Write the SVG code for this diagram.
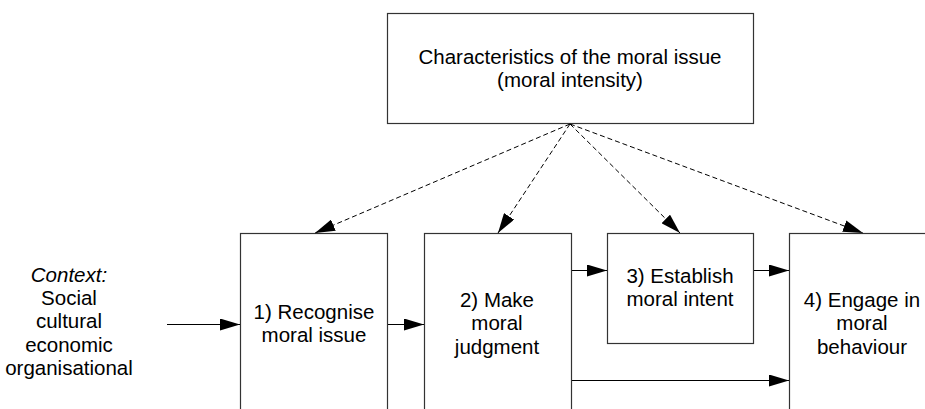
<svg xmlns="http://www.w3.org/2000/svg" width="925" height="409" viewBox="0 0 925 409">
  <style>
    .box { fill: #fff; stroke: #333; stroke-width: 1.2; }
    .lbl { font-family: "Liberation Sans", Arial, sans-serif; font-size: 20.5px; fill: #000; text-anchor: middle; }
    .it { font-style: italic; }
    .flow { stroke: #000; stroke-width: 1; fill: none; marker-end: url(#head); }
    .dash { stroke-dasharray: 5 3; }
  </style>
  <defs>
    <marker id="head" markerUnits="userSpaceOnUse" markerWidth="20" markerHeight="12" refX="20" refY="6" orient="auto">
      <path d="M0,0 L20,6 L0,12 Z" fill="#000" stroke="none"/>
    </marker>
  </defs>
  <rect width="925" height="409" fill="#fff"/>

  <g id="moral-intensity">
    <rect class="box" x="387.5" y="13.5" width="366" height="110"/>
    <text class="lbl" x="570" y="64">Characteristics of the moral issue</text>
    <text class="lbl" x="570" y="87">(moral intensity)</text>
  </g>

  <g id="context">
    <text class="lbl it" x="69" y="282">Context:</text>
    <text class="lbl" x="69" y="305">Social</text>
    <text class="lbl" x="69" y="328">cultural</text>
    <text class="lbl" x="69" y="352">economic</text>
    <text class="lbl" x="69" y="375">organisational</text>
  </g>

  <g id="recognise">
    <rect class="box" x="240.5" y="233.5" width="147" height="190"/>
    <text class="lbl" x="314" y="319">1) Recognise</text>
    <text class="lbl" x="314" y="342">moral issue</text>
  </g>

  <g id="judgment">
    <rect class="box" x="424.5" y="233.5" width="147" height="190"/>
    <text class="lbl" x="497" y="307">2) Make</text>
    <text class="lbl" x="497" y="330">moral</text>
    <text class="lbl" x="497" y="354">judgment</text>
  </g>

  <g id="intent">
    <rect class="box" x="607.5" y="233.5" width="146" height="110"/>
    <text class="lbl" x="680" y="283">3) Establish</text>
    <text class="lbl" x="680" y="306">moral intent</text>
  </g>

  <g id="behaviour">
    <rect class="box" x="789.5" y="233.5" width="150" height="190"/>
    <text class="lbl" x="862" y="307">4) Engage in</text>
    <text class="lbl" x="862" y="330">moral</text>
    <text class="lbl" x="862" y="354">behaviour</text>
  </g>

  <g id="connectors">
    <line class="flow dash" x1="570" y1="124" x2="315" y2="233"/>
    <line class="flow dash" x1="570" y1="124" x2="498" y2="233"/>
    <line class="flow dash" x1="570" y1="124" x2="680" y2="233"/>
    <line class="flow dash" x1="570" y1="124" x2="863" y2="233"/>
    <line class="flow" x1="167" y1="324.5" x2="240" y2="324.5"/>
    <line class="flow" x1="388" y1="324.5" x2="424" y2="324.5"/>
    <line class="flow" x1="572" y1="270.5" x2="607" y2="270.5"/>
    <line class="flow" x1="754" y1="270.5" x2="789" y2="270.5"/>
    <line class="flow" x1="572" y1="380.5" x2="789" y2="380.5"/>
  </g>
</svg>
